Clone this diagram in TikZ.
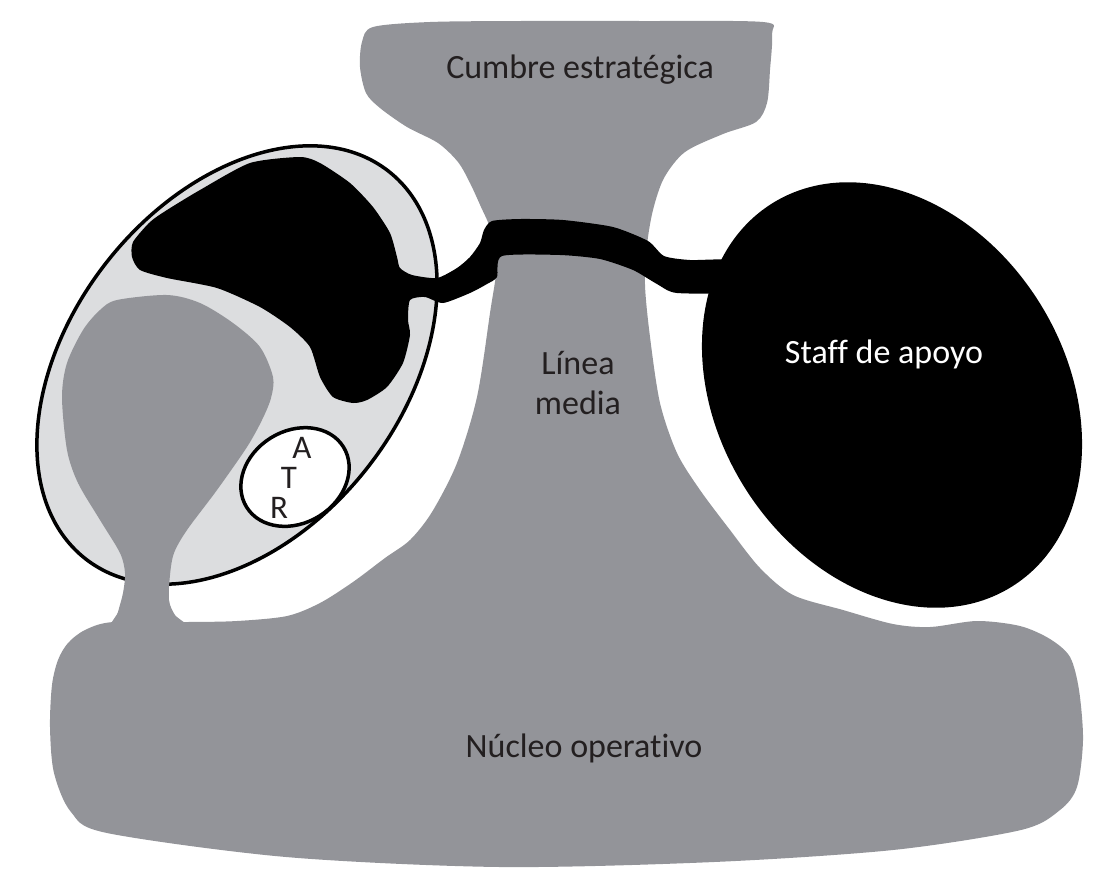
\documentclass[tikz,border=0pt]{standalone}
\usepackage{fontspec}
\setmainfont{Carlito}[Ligatures=NoCommon]
\definecolor{grisfondo}{RGB}{147,148,153}
\definecolor{grisclaro}{RGB}{220,221,223}
\definecolor{tinta}{RGB}{35,31,32}
\tikzset{
  etiqueta/.style={font=\fontsize{34}{40}\selectfont, text=tinta, align=center, inner sep=0pt},
  letra/.style={font=\fontsize{33}{33}\selectfont, text=tinta, inner sep=0pt, anchor=base},
}
\begin{document}
\begin{tikzpicture}[x=1pt,y=-1pt]
\useasboundingbox (0,0) rectangle (1116,895);
% cumbre, linea media y nucleo operativo
\fill[grisfondo] plot[smooth cycle, tension=0.5] coordinates {
  (373,27) (430,22) (520,21) (640,21) (763,22) (772,34) (770,70) (767,103) (756,122)
  (723,134) (685,152) (664,178) (653,210) (647,245) (645,285) (650,337) (660,403)
  (677,453) (700,490) (730,530) (760,568) (793,595) (843,610) (893,624) (930,627)
  (977,621) (1020,626) (1050,639) (1070,657) (1079,690) (1083,740) (1077,787)
  (1060,810) (1021,830) (893,850) (714,862) (500,867) (286,857) (107,833) (71,812)
  (54,773) (50,727) (52,685) (58,660) (68,643) (85,630) (113,622) (187,622)
  (237,621) (287,616) (320,603) (353,582) (385,558) (410,540) (432,512) (457,463)
  (477,397) (490,313) (497,262) (490,228) (481,207) (470,183) (458,162) (438,143)
  (407,127) (380,108) (366,93) (360,67) (362,42)};
% tecnoestructura
\filldraw[fill=grisclaro, draw=black, line width=3.5pt, rotate around={52:(237,365)}]
  (237,365) ellipse [x radius=246pt, y radius=166pt];
\fill[grisfondo] plot[smooth cycle, tension=0.5] coordinates {
  (117,300) (167,295) (200,303) (233,323) (260,347) (273,377) (271,398) (262,420)
  (247,447) (217,490) (187,530) (174,553) (170,575) (169,600) (175,615) (190,632)
  (113,632) (118,612) (123,593) (125,573) (120,553) (100,520) (78,483) (67,450)
  (62,397) (67,363) (83,330) (100,310)};
\fill[black] plot[smooth cycle, tension=0.4] coordinates {
  (133,242) (150,222) (167,210) (200,190) (250,163) (300,157) (320,163) (350,183)
  (373,207) (390,233) (397,257) (400,268) (412,275) (437,278) (457,268) (470,257)
  (480,243) (484,230) (492,221) (520,219) (563,220) (613,227) (648,241) (664,256)
  (690,260) (740,261) (740,291) (677,293) (657,284) (633,270) (600,259) (560,255)
  (502,256) (497,277) (487,284) (470,293) (443,303) (425,297) (410,300) (408,320)
  (410,335) (403,363) (387,387) (367,400) (353,403) (333,397) (320,377) (310,347)
  (290,327) (260,307) (217,288) (167,278) (140,270) (132,257)};
% staff de apoyo
\fill[black, rotate around={-58:(892,395)}] (892,395) ellipse [x radius=226pt, y radius=174pt];
\filldraw[fill=white, draw=black, line width=3.5pt, rotate around={32:(295,477)}]
  (295,477) ellipse [x radius=57pt, y radius=46pt];
\node[etiqueta, anchor=base] (cumbre) at (580,78) {Cumbre estratégica};
\node[etiqueta] (linea) at (578,383) {Línea\\media};
\node[etiqueta, text=white, anchor=base] (staff) at (884,363) {Staff de apoyo};
\node[etiqueta, anchor=base] (nucleo) at (584,757) {Núcleo operativo};
\node[letra] (letraA) at (302,458) {A};
\node[letra] (letraT) at (289,488) {T};
\node[letra] (letraR) at (279,518) {R};
\end{tikzpicture}
\end{document}
